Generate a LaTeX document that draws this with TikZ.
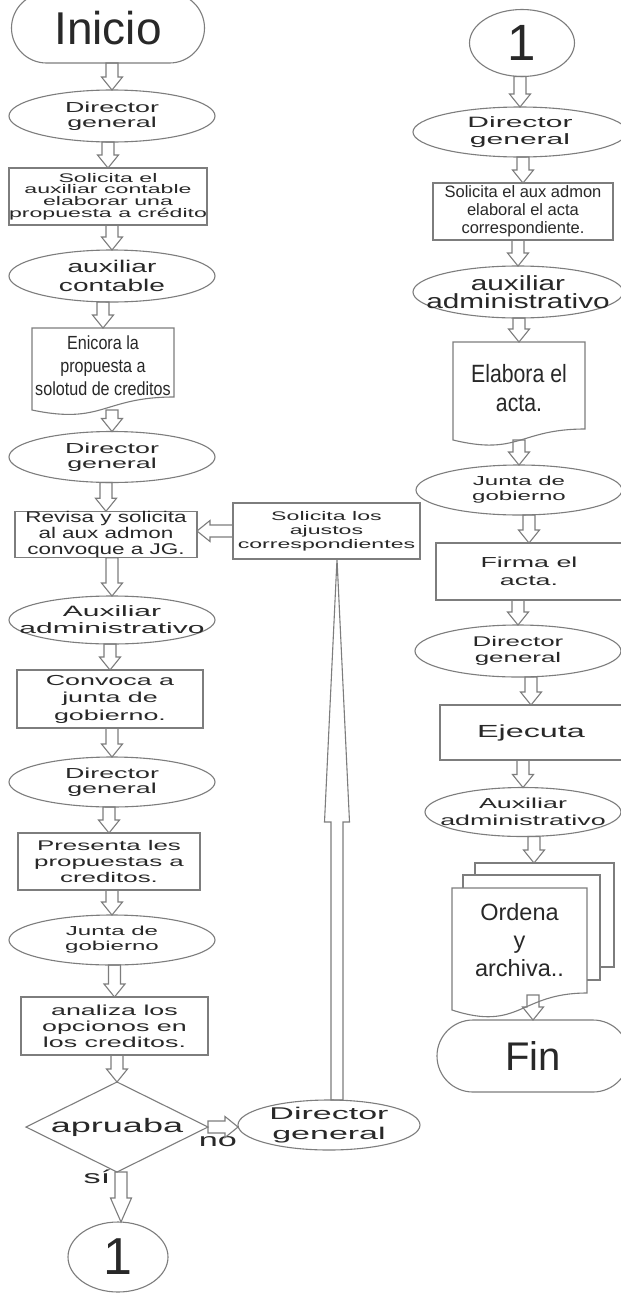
\documentclass[tikz,border=0pt]{standalone}
\usepackage{fontspec}
\setmainfont{Liberation Sans}
\newfontfamily\plainface{Liberation Sans}
\newfontfamily\narrowface[FakeStretch=0.85]{Liberation Sans}
\newfontfamily\midface[FakeStretch=1.45]{Liberation Sans}
\newfontfamily\semiwideface[FakeStretch=1.65]{Liberation Sans}
\newfontfamily\wideface[FakeStretch=1.85]{Liberation Sans}
\newfontfamily\xwideface[FakeStretch=2.0]{Liberation Sans}
\usetikzlibrary{shapes.geometric,shapes.misc,calc}

\definecolor{linegray}{RGB}{125,125,125}
\definecolor{inkgray}{RGB}{40,40,40}

\newcommand\fsz[2]{\fontsize{#1}{#2}\selectfont}

% hollow block arrow from #1 to #2
\newcommand\shaftw{6pt}
\newcommand\headw{10.5pt}
\newcommand\headl{13pt}
\newcommand\flowarrow[2]{%
  \coordinate (fa-s) at (#1);
  \coordinate (fa-e) at (#2);
  \coordinate (fa-h) at ($(fa-e)!\headl!(fa-s)$);
  \draw[flowline] ($(fa-s)!\shaftw!90:(fa-e)$)
    -- ($(fa-h)!\shaftw!90:(fa-e)$) -- ($(fa-h)!\headw!90:(fa-e)$)
    -- (fa-e)
    -- ($(fa-h)!\headw!-90:(fa-e)$) -- ($(fa-h)!\shaftw!-90:(fa-e)$)
    -- ($(fa-s)!\shaftw!-90:(fa-e)$) -- cycle;
}
% document outline around node #1 (rise of right corner, dip of the wave)
\newcommand\docoutline[3]{%
  \draw[rim] (#1.south west) -- (#1.north west) -- (#1.north east)
    -- ([yshift=#2]#1.south east)
    .. controls ([yshift=#2]#1.south) and ([yshift=-#3]#1.south) .. (#1.south west) -- cycle;
}

\begin{document}
\begin{tikzpicture}[x=1pt, y=-1pt,
  every node/.append style={inner sep=0pt, outer sep=0pt},
  every label/.style={text=inkgray, align=center, inner sep=0pt},
  rim/.style={draw=linegray, line width=1.1pt},
  box/.style={rim, text=inkgray, align=center},
  terminal/.style 2 args={box, rounded rectangle, minimum width=#1, minimum height=#2},
  role/.style 2 args={box, ellipse, minimum width=#1, minimum height=#2},
  proc/.style 2 args={box, rectangle, minimum width=#1, minimum height=#2},
  decision/.style 2 args={box, diamond, minimum width=#1, minimum height=#2},
  doc/.style 2 args={rectangle, text=inkgray, align=center, minimum width=#1, minimum height=#2},
  flowline/.style={rim, line join=miter},
  txtplain/.style 2 args={font={\plainface\fsz{#1}{#2}}},
  txtnarrow/.style 2 args={font={\narrowface\fsz{#1}{#2}}},
  txtmid/.style 2 args={font={\midface\fsz{#1}{#2}}},
  txtsemi/.style 2 args={font={\semiwideface\fsz{#1}{#2}}},
  txtwide/.style 2 args={font={\wideface\fsz{#1}{#2}}},
  txtxwide/.style 2 args={font={\xwideface\fsz{#1}{#2}}}]

\fill[white] (0,0) rectangle (621,1293);
\useasboundingbox (0,0) rectangle (621,1293);

% left column
\node[terminal={193pt}{70pt}, txtplain={46}{50}] (ini) at (108,28) {Inicio};
\node[role={206pt}{52pt}, label={[txtwide={14.5}{15.5}]center:Director\\general}] (dg1) at (112,116) {};
\node[proc={192pt}{57pt}, txtwide={12.5}{11.7}] (sol1) at (108,196.5)
  {Solicita el\\auxiliar contable\\elaborar una\\propuesta a crédito};
\node[role={206pt}{52pt}, label={[txtsemi={17}{19}]center:auxiliar\\contable}] (aux1) at (112,276) {};
\node[doc={142pt}{82pt}, label={[txtnarrow={19}{23}, yshift=3pt]center:Enicora la\\propuesta a\\solotud de creditos}] (enc) at (103,369) {};
\docoutline{enc}{13pt}{15pt}
\node[role={206pt}{51pt}, label={[txtwide={14.5}{15.5}]center:Director\\general}] (dg2) at (112,457) {};
\node[proc={182pt}{45pt}, txtmid={15.5}{16}] (rev) at (106,534.5)
  {Revisa y solicita\\al aux admon\\convoque a JG.};
\node[role={206pt}{48pt}, label={[txtxwide={15}{17}]center:Auxiliar\\administrativo}] (aux2) at (112,620) {};
\node[proc={186pt}{58pt}, txtwide={14.5}{17.5}] (conv) at (110,699)
  {Convoca a\\junta de\\gobierno.};
\node[role={206pt}{50pt}, label={[txtwide={14.5}{15.5}]center:Director\\general}] (dg3) at (112,782) {};
\node[proc={182pt}{57pt}, txtwide={14}{16}] (pres) at (109,861.5)
  {Presenta les\\propuestas a\\creditos.};
\node[role={206pt}{50pt}, label={[txtwide={13}{15}]center:Junta de\\gobierno}] (jg1) at (112,940) {};
\node[proc={187pt}{58pt}, txtwide={14.5}{16}] (ana) at (114.5,1026)
  {analiza los\\opcionos en\\los creditos.};
\node[decision={182pt}{90pt}, label={[txtwide={19.5}{20}]center:apruaba}] (apr) at (117,1127) {};
\node[txtwide={18.5}{20}, text=inkgray] (nolbl) at (218,1142) {no};
\node[txtwide={18.5}{20}, text=inkgray] (silbl) at (97,1177) {sí};
\node[role={100pt}{70pt}, txtplain={52}{52}] (onel) at (118,1257) {1};

% way back for adjustments
\node[role={182pt}{50pt}, label={[txtxwide={17}{20}]center:Director\\general}] (dgno) at (329,1125) {};
\node[proc={187pt}{56pt}, txtwide={12.5}{14}] (ajus) at (326.5,531)
  {Solicita los\\ajustos\\correspondientes};

% right column
\node[role={105pt}{67pt}, txtplain={51}{51}] (oner) at (522,43) {1};
\node[role={214pt}{50pt}, label={[txtxwide={15}{17}]center:Director\\general}] (dg4) at (520,132) {};
\node[proc={180pt}{57pt}, txtplain={16.5}{18}] (sol2) at (523,211.5)
  {Solicita el aux admon\\elaboral el acta\\correspondiente.};
\node[role={210pt}{52pt}, label={[txtmid={20.5}{18.5}]center:auxiliar\\administrativo}] (aux3) at (518,292) {};
\node[doc={132pt}{98pt}, label={[txtnarrow={25}{29}, yshift=3pt]center:Elabora el\\acta.}] (ela) at (519,391) {};
\docoutline{ela}{11pt}{16pt}
\node[role={206pt}{50pt}, label={[txtwide={13}{15}]center:Junta de\\gobierno}] (jg2) at (519,490) {};
\node[proc={186pt}{57pt}, txtwide={14.5}{18}] (fir) at (529,571.5) {Firma el\\acta.};
\node[role={206pt}{52pt}, label={[txtwide={14}{15.5}]center:Director\\general}] (dg5) at (518,651) {};
\node[proc={182pt}{55pt}, txtwide={17.5}{20}] (eje) at (531,732.5) {Ejecuta};
\node[role={196pt}{49pt}, label={[txtwide={14.5}{17}]center:Auxiliar\\administrativo}] (aux4) at (523,812) {};
% stacked pages behind the last document
\draw[rim] (475,875) -- (475,863) -- (614,863) -- (614,967) -- (600,967);
\draw[rim] (463,888) -- (463,875) -- (600,875) -- (600,980) -- (587,980);
\coordinate (ordtop) at (534,863);
\node[doc={135pt}{122pt}, label={[txtplain={23.5}{28}, yshift=9pt]center:Ordena\\y\\archiva..}] (ord) at (519.5,949) {};
\docoutline{ord}{17pt}{22pt}
\node[terminal={192pt}{72pt}, txtplain={40}{44}] (fin) at (533,1056) {Fin};

% connectors
\foreach \a/\b in {ini/dg1, dg1/sol1, sol1/aux1, aux1/enc, enc/dg2, dg2/rev, rev/aux2,
    aux2/conv, conv/dg3, dg3/pres, pres/jg1, jg1/ana, ana/apr,
    oner/dg4, dg4/sol2, sol2/aux3, aux3/ela, ela/jg2, jg2/fir, fir/dg5, dg5/eje, eje/aux4}
  \flowarrow{\a.south -| \b.north}{\b.north};
\flowarrow{aux4.south -| ordtop}{ordtop}
\coordinate (ordfoot) at ([yshift=15pt]ord.south -| fin.north);
\flowarrow{ordfoot}{fin.north}
\flowarrow{apr.east}{apr.east -| dgno.west}
\flowarrow{ajus.west}{ajus.west -| rev.east}
\coordinate (sifoot) at ([xshift=4pt]apr.south);
\begin{scope}
  \renewcommand\headl{24pt}
  \flowarrow{sifoot}{sifoot |- onel.north}
\end{scope}
\coordinate (upfoot) at ([xshift=8pt]dgno.north);
\begin{scope}
  \renewcommand\headl{263pt}\renewcommand\headw{12.5pt}
  \flowarrow{upfoot}{upfoot |- ajus.south}
\end{scope}
\end{tikzpicture}
\end{document}
